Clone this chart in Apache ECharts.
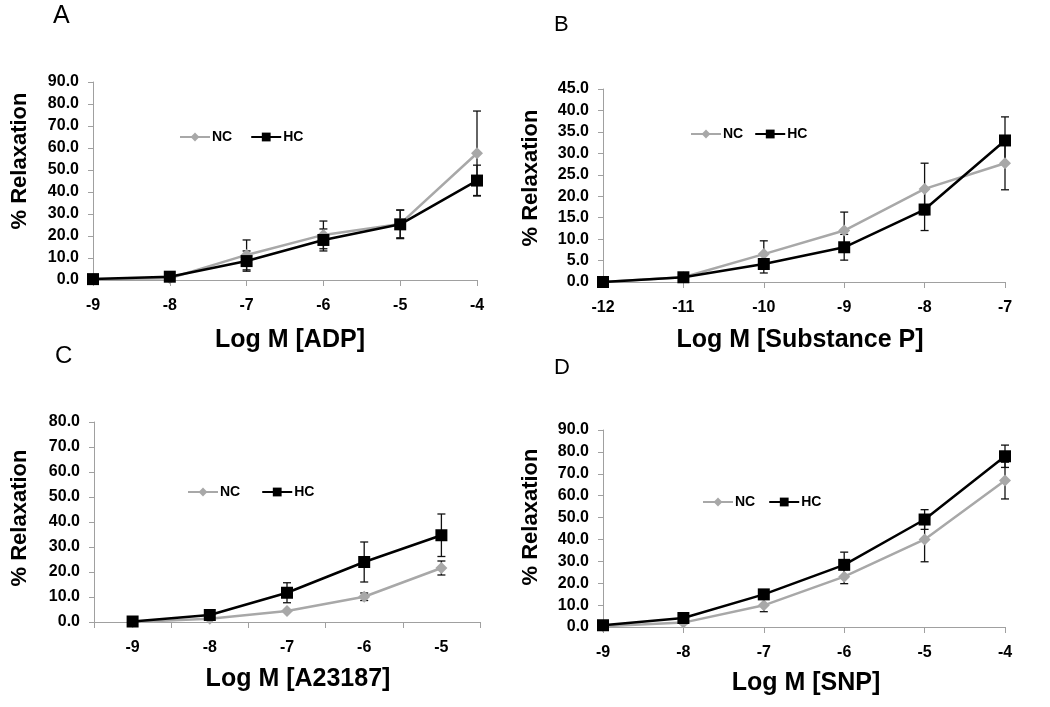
<!DOCTYPE html>
<html>
<head>
<meta charset="utf-8">
<script src="https://cdn.jsdelivr.net/npm/echarts@6/dist/echarts.min.js"></script>
<style>
html,body{margin:0;padding:0;background:#fff;}
#chart{width:1050px;height:707px;}
</style>
</head>
<body>
<div id="chart"></div>
<script>
// ---- Data ----
const xA = ['-9','-8','-7','-6','-5','-4'];
const ncA = [0.3, 0.8, 11.4, 20.5, 25.5, 57.6];
const ncErrA = [0, 0.5, 6.8, 6.3, 6.3, 19.2];
const hcA = [0.4, 1.5, 8.6, 18.2, 25.3, 45.2];
const hcErrA = [0, 0.5, 4.6, 5.0, 6.5, 7.0];

const xB = ['-12','-11','-10','-9','-8','-7'];
const ncB = [0, 1.1, 6.5, 12.0, 21.7, 27.7];
const ncErrB = [0, 0, 3.1, 4.3, 6.0, 6.2];
const hcB = [0, 1.1, 4.2, 8.1, 16.9, 33.0];
const hcErrB = [0, 0, 2.1, 3.0, 4.9, 5.5];

const xC = ['-9','-8','-7','-6','-5'];
const ncC = [0, 1.3, 4.4, 10.1, 21.6];
const ncErrC = [0, 0, 0.5, 1.5, 2.8];
const hcC = [0.2, 2.8, 11.7, 24.0, 34.7];
const hcErrC = [0, 0.3, 4.0, 8.0, 8.5];

const xD = ['-9','-8','-7','-6','-5','-4'];
const ncD = [0.3, 2.0, 9.9, 23.0, 40.0, 66.9];
const ncErrD = [0, 0.5, 2.9, 3.2, 10.2, 8.4];
const hcD = [0.8, 4.1, 14.9, 28.4, 49.1, 78.0];
const hcErrD = [0, 0.5, 1.5, 5.8, 4.5, 5.1];

const panelLetters = ['A','B','C','D'];
const xTitles = ['Log M [ADP]', 'Log M [Substance P]', 'Log M [A23187]', 'Log M [SNP]'];
const yTitle = '% Relaxation';
const yMax = [90, 45, 80, 90];
const yInterval = [10, 5, 10, 10];

// ---- Build ----
const FONT = '"Liberation Sans", Arial, sans-serif';
const panels = [
  {x: xA, nc: ncA, ncErr: ncErrA, hc: hcA, hcErr: hcErrA, bg: false,
   grid: {left: 93, top: 82, width: 384, height: 198},
   legend: {left: 174, top: 125, gap: 18}},
  {x: xB, nc: ncB, ncErr: ncErrB, hc: hcB, hcErr: hcErrB, bg: false,
   grid: {left: 603, top: 89, width: 402, height: 193},
   legend: {left: 685, top: 122, gap: 11}},
  {x: xC, nc: ncC, ncErr: ncErrC, hc: hcC, hcErr: hcErrC, bg: true,
   grid: {left: 94, top: 422, width: 386, height: 200},
   legend: {left: 182, top: 480, gap: 21}},
  {x: xD, nc: ncD, ncErr: ncErrD, hc: hcD, hcErr: hcErrD, bg: false,
   grid: {left: 603, top: 430, width: 402, height: 197},
   legend: {left: 697, top: 490, gap: 13}}
];

const grids = [], xAxes = [], yAxes = [], series = [], legends = [];
const axisGray = '#a0a0a0';

function errRender(params, api) {
  const xi = api.value(0);
  const lo = api.coord([xi, api.value(1)]);
  const hi = api.coord([xi, api.value(2)]);
  const w = 4;
  return {
    type: 'group',
    children: [
      {type: 'line', shape: {x1: lo[0], y1: lo[1], x2: hi[0], y2: hi[1]}, style: {stroke: '#111', lineWidth: 1.3}},
      {type: 'line', shape: {x1: hi[0]-w, y1: hi[1], x2: hi[0]+w, y2: hi[1]}, style: {stroke: '#111', lineWidth: 1.3}},
      {type: 'line', shape: {x1: lo[0]-w, y1: lo[1], x2: lo[0]+w, y2: lo[1]}, style: {stroke: '#111', lineWidth: 1.3}}
    ]
  };
}

panels.forEach((p, i) => {
  grids.push(Object.assign({containLabel: false}, p.grid));
  xAxes.push({
    type: 'category', gridIndex: i, data: p.x, boundaryGap: p.bg,
    axisLine: {lineStyle: {color: axisGray, width: 1}},
    axisTick: {show: true, alignWithLabel: false, length: 6, lineStyle: {color: axisGray}},
    axisLabel: {color: '#000', fontFamily: FONT, fontWeight: 'bold', fontSize: 16, margin: 18},
    splitLine: {show: false}
  });
  yAxes.push({
    type: 'value', gridIndex: i, min: 0, max: yMax[i], interval: yInterval[i],
    axisLine: {show: true, lineStyle: {color: axisGray, width: 1}},
    axisTick: {show: true, length: 5, lineStyle: {color: axisGray}},
    axisLabel: {color: '#000', fontFamily: FONT, fontWeight: 'bold', fontSize: 16, margin: 14,
      formatter: v => v.toFixed(1)},
    splitLine: {show: false}
  });
  const errNC = p.nc.map((v, k) => [k, v - p.ncErr[k], v + p.ncErr[k]]).filter((d, k) => p.ncErr[k] > 0);
  const errHC = p.hc.map((v, k) => [k, v - p.hcErr[k], v + p.hcErr[k]]).filter((d, k) => p.hcErr[k] > 0);
  series.push({type: 'custom', name: 'errNC' + i, xAxisIndex: i, yAxisIndex: i, renderItem: errRender, data: errNC, z: 1, silent: true});
  series.push({type: 'custom', name: 'errHC' + i, xAxisIndex: i, yAxisIndex: i, renderItem: errRender, data: errHC, z: 1, silent: true});
  series.push({type: 'line', name: 'NC', xAxisIndex: i, yAxisIndex: i, data: p.nc,
    symbol: 'diamond', symbolSize: 12, showAllSymbol: true,
    lineStyle: {color: '#a8a8a8', width: 2.5}, itemStyle: {color: '#a8a8a8'}, z: 3});
  series.push({type: 'line', name: 'HC', xAxisIndex: i, yAxisIndex: i, data: p.hc,
    symbol: 'rect', symbolSize: 12, showAllSymbol: true,
    lineStyle: {color: '#000', width: 2.5}, itemStyle: {color: '#000'}, z: 4});
  legends.push({
    left: p.legend.left, top: p.legend.top, itemWidth: 30, itemHeight: 11, itemGap: p.legend.gap,
    data: ['NC', 'HC'], selectedMode: false,
    textStyle: {color: '#000', fontFamily: FONT, fontWeight: 'bold', fontSize: 14, padding: [0, 0, 0, -3]}
  });
});

const graphics = [
  {type: 'text', x: 53, y: 4, style: {text: 'A', font: '25px ' + FONT, fill: '#000'}},
  {type: 'text', x: 554, y: 14, style: {text: 'B', font: '22px ' + FONT, fill: '#000'}},
  {type: 'text', x: 55, y: 344, style: {text: 'C', font: '24px ' + FONT, fill: '#000'}},
  {type: 'text', x: 554, y: 357, style: {text: 'D', font: '22px ' + FONT, fill: '#000'}}
];
const xTitlePos = [[290, 340], [800, 340], [298, 679], [806, 683]];
const yTitlePos = [[20, 161], [531, 178], [20, 518], [531, 517]];
for (let i = 0; i < 4; i++) {
  graphics.push({type: 'text', x: xTitlePos[i][0], y: xTitlePos[i][1],
    style: {text: xTitles[i], font: 'bold 25px ' + FONT, fill: '#000', textAlign: 'center', textVerticalAlign: 'middle'}});
  graphics.push({type: 'text', x: yTitlePos[i][0], y: yTitlePos[i][1], rotation: Math.PI / 2,
    style: {text: yTitle, font: 'bold 22px ' + FONT, fill: '#000', textAlign: 'center', textVerticalAlign: 'middle'}});
}

const chart = echarts.init(document.getElementById('chart'), null, {renderer: 'canvas'});
chart.setOption({
  animation: false,
  backgroundColor: '#fff',
  grid: grids,
  xAxis: xAxes,
  yAxis: yAxes,
  legend: legends,
  series: series,
  graphic: graphics
});
</script>
</body>
</html>
